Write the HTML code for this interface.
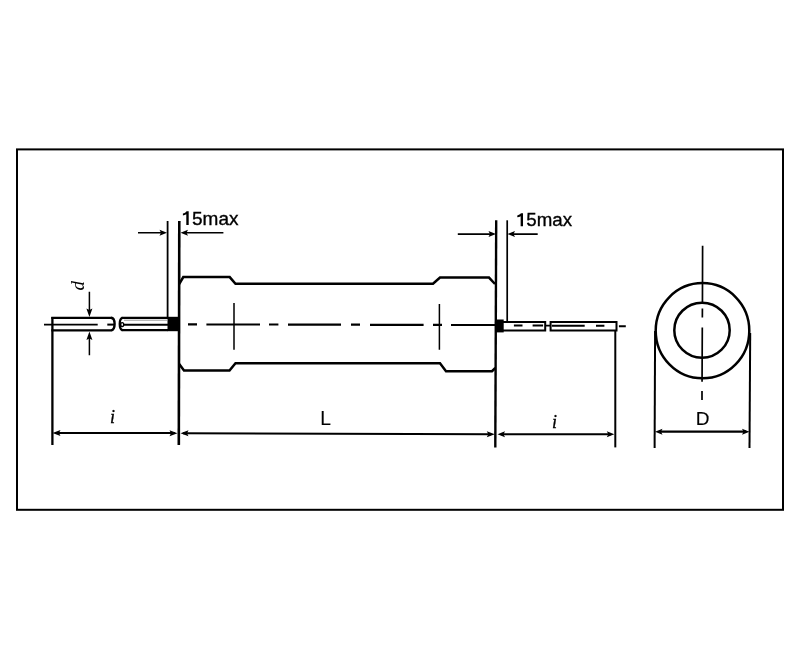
<!DOCTYPE html>
<html><head><meta charset="utf-8"><style>
html,body{margin:0;padding:0;background:#fff;}
body{width:800px;height:668px;overflow:hidden;}
svg{display:block;}
text{font-family:"Liberation Sans",sans-serif;}
.it{font-family:"Liberation Serif",serif;font-style:italic;}
</style></head><body>
<svg width="800" height="668" viewBox="0 0 800 668">
<defs><filter id="soft" filterUnits="userSpaceOnUse" x="0" y="0" width="800" height="668"><feGaussianBlur stdDeviation="0.35"/></filter></defs>
<rect x="0" y="0" width="800" height="668" fill="#fff"/>
<g filter="url(#soft)">
<!-- frame -->
<rect x="17" y="149.4" width="766" height="360.4" fill="none" stroke="#000" stroke-width="2"/>

<g stroke="#000" fill="none" stroke-linecap="butt">
<!-- left lead seg1 -->
<path d="M51.3 317.8H111.5M51.3 330.4H111.5" stroke-width="2.3"/>
<path d="M52.4 317V445" stroke-width="2.3"/>
<path d="M44 324.6H97.7" stroke-width="1.8"/>
<path d="M111 317.8C115.8 318.2 115.8 329.8 111 330.4" stroke-width="2.4"/>
<path d="M107.3 324.6H114" stroke-width="2"/>
<!-- left lead seg2 -->
<path d="M121.5 317.9H168M121.5 330.2H168" stroke-width="2.3"/>
<path d="M124 320.2H167" stroke="#999" stroke-width="1"/>
<path d="M123 324.7H168" stroke-width="1.9"/>
<path d="M122.5 317.9C118.8 318.7 118.8 329.4 122.5 330.2" stroke-width="2.3"/>
<ellipse cx="122.2" cy="324.6" rx="1.5" ry="2" stroke-width="1.4"/>

<!-- extension lines -->
<path d="M167.6 221V317" stroke-width="1.8"/>
<path d="M179.3 221L178.8 445" stroke-width="2.6"/>
<path d="M496.2 220.3L495.3 447.4" stroke-width="2.4"/>
<path d="M507.2 220.3V321" stroke-width="1.7"/>
<path d="M615.3 331V447.4" stroke-width="2"/>
<path d="M655.1 331L654.6 448" stroke-width="2"/>
<path d="M750.2 333L749.5 448" stroke-width="2"/>

<!-- 15max arrows -->
<path d="M138 232.7H162M185 232.7H223.4" stroke-width="1.6"/>
<path d="M457.8 234.1H490M513 234.1H537.7" stroke-width="1.6"/>

<!-- body outline -->
<path d="M179.2 284L183.3 277.1H229.7L235.5 283.8H433L440 277.6H489L495 284" stroke-width="2.5"/>
<path d="M179.2 364L184 370.5H229.5L235.5 363.3H440L446 371.2H492L495.3 368" stroke-width="2.5"/>

<!-- centre line -->
<path d="M188 324.4H197M206.4 324.5H260M269 324.5H278.4M288 324.6H341M351 324.7H360M370 324.8H423.6M433 324.9H442M451 325H495" stroke-width="2.2"/>
<!-- markers -->
<path d="M234 303V349.8M439.4 304V349.8" stroke-width="1.5"/>

<!-- right lead -->
<path d="M503 322H545.2M503 330.6H545.2M550.6 321.9H616.5M550.6 330.4H616.5M545.2 321V331.6M550.6 321V331.6M616.5 321V331.4" stroke-width="2"/>
<path d="M513.9 325.5H522.5M532.6 325.5H543.1M545 325.6H551M551.9 325.7H584.7M596 325.8H604.4M618.9 326.2H625.8" stroke-width="1.9"/>

<!-- end view -->
<ellipse cx="702.5" cy="330.7" rx="46.8" ry="47.6" stroke-width="2.5"/>
<ellipse cx="702" cy="330.2" rx="27.7" ry="27.5" stroke-width="2.5"/>
<path d="M702.6 245.7L702.45 302M702.4 308.6L702.35 317.6M702.3 327.5L702.05 381.8M702 391V399.9" stroke-width="1.7"/>

<!-- dimension lines -->
<path d="M56 433H175M183 433.3L491 434.2M501 434.3H611" stroke-width="1.9"/>
<path d="M659 431.7H746" stroke-width="2.2"/>
<path d="M89.4 291.7V312M89.4 336V355.3" stroke-width="1.5"/>
</g>

<g fill="#000" stroke="none">
<!-- black blocks -->
<rect x="167.5" y="316.8" width="10.5" height="14.4"/>
<rect x="495.2" y="319.5" width="8.5" height="12.9"/>
<!-- arrowheads -->
<path d="M167 232.7L159.5 229.7L161 232.7L159.5 235.7Z"/>
<path d="M180.5 232.7L188 229.7L186.5 232.7L188 235.7Z"/>
<path d="M496 234.1L488.5 231.1L490 234.1L488.5 237.1Z"/>
<path d="M507.5 234.1L515 231.1L513.5 234.1L515 237.1Z"/>
<path d="M52.5 433L60.5 430L59 433L60.5 436Z"/>
<path d="M177.5 433.2L169.5 430.2L171 433.2L169.5 436.2Z"/>
<path d="M180.5 433.3L188.5 430.3L187 433.3L188.5 436.3Z"/>
<path d="M494.8 434.2L486.8 431.2L488.3 434.2L486.8 437.2Z"/>
<path d="M497.5 434.3L505 431.3L503.5 434.3L505 437.3Z"/>
<path d="M614.3 434.3L606.8 431.3L608.3 434.3L606.8 437.3Z"/>
<path d="M655 431.7L662.5 428.7L661 431.7L662.5 434.7Z"/>
<path d="M749.5 431.7L742 428.7L743.5 431.7L742 434.7Z"/>
<path d="M89.4 317L86.4 308.5L89.4 310L92.4 308.5Z"/>
<path d="M89.4 331.5L86.4 340L89.4 338.5L92.4 340Z"/>
<!-- digit 1 glyphs (Helvetica-style, no foot) -->

</g>

<!-- text -->
<g fill="#000" stroke="#000" stroke-width="0.35">
<g transform="translate(182.9 224.9)"><path d="M3.4 0V-10.6C2.4 -9.9 1.2 -9.6 0 -9.4V-11.3C1.6 -11.7 2.9 -12.5 3.7 -13.6H5.8V0Z" stroke-width="0"/><text x="9.1" y="0" font-size="19">5max</text></g>
<g transform="translate(517.3 226.2) scale(0.985 0.95)"><path d="M3.4 0V-10.6C2.4 -9.9 1.2 -9.6 0 -9.4V-11.3C1.6 -11.7 2.9 -12.5 3.7 -13.6H5.8V0Z" stroke-width="0"/><text x="9.1" y="0" font-size="19">5max</text></g>
<text x="320.2" y="424.5" font-size="19.3" stroke-width="0.12">L</text>
<text x="695.8" y="425.2" font-size="19" stroke-width="0.12">D</text>
<text x="110" y="423.2" font-size="18" class="it">i</text>
<text x="552" y="427.9" font-size="18" class="it">i</text>
<text x="0" y="0" font-size="19" class="it" stroke-width="0" transform="translate(83.8 290.4) rotate(-90)">d</text>
</g>
</g>
</svg>
</body></html>
